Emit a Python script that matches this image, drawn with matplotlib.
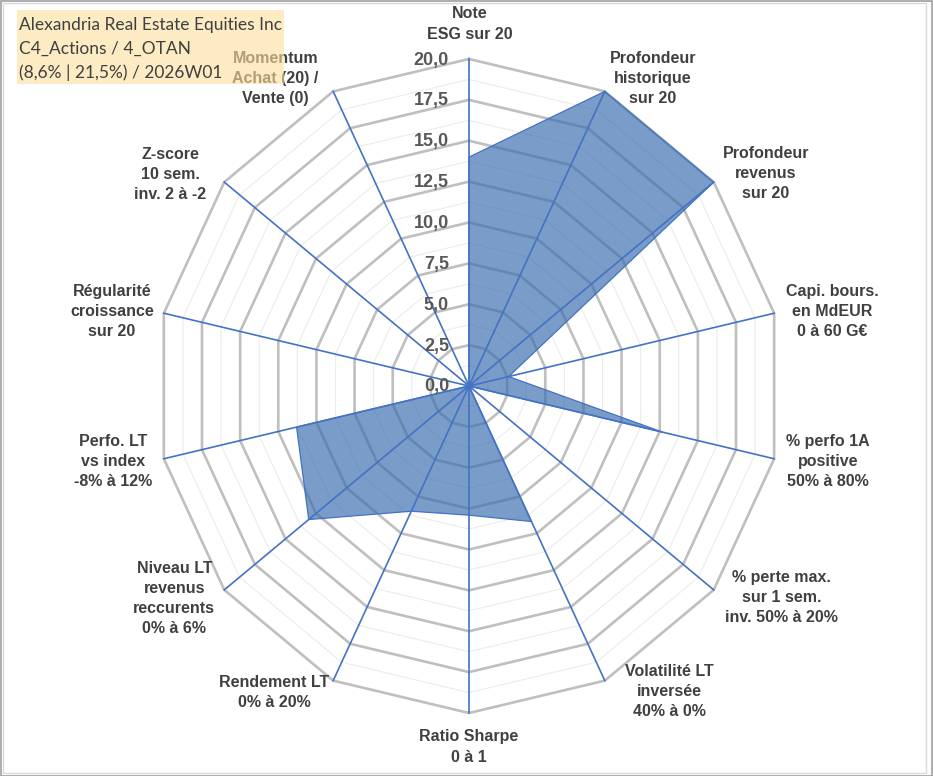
import numpy as np
import matplotlib
matplotlib.use("Agg")
import matplotlib.pyplot as plt
from matplotlib.patches import Rectangle, Polygon

# axis names, clockwise from the top
categories = [
    "Note\nESG sur 20",
    "Profondeur\nhistorique\nsur 20",
    "Profondeur\nrevenus\nsur 20",
    "Capi. bours.\nen MdEUR\n0 à 60 G€",
    "% perfo 1A\npositive\n50% à 80%",
    "% perte max.\nsur 1 sem.\ninv. 50% à 20%",
    "Volatilité LT\ninversée\n40% à 0%",
    "Ratio Sharpe\n0 à 1",
    "Rendement LT\n0% à 20%",
    "Niveau LT\nrevenus\nreccurents\n0% à 6%",
    "Perfo. LT\nvs index\n-8% à 12%",
    "Régularité\ncroissance\nsur 20",
    "Z-score\n10 sem.\ninv. 2 à -2",
    "Momentum\nAchat (20) /\nVente (0)",
]
values = [14.0, 20.0, 20.0, 2.6, 12.7, 0.0, 9.2, 7.9, 8.5, 13.1, 11.3, 0.0, 0.0, 0.0]
tick_values = [0.0, 2.5, 5.0, 7.5, 10.0, 12.5, 15.0, 17.5, 20.0]
tick_labels = ["0,0", "2,5", "5,0", "7,5", "10,0", "12,5", "15,0", "17,5", "20,0"]
title_lines = ["Alexandria Real Estate Equities Inc",
               "C4_Actions / 4_OTAN",
               "(8,6% | 21,5%) / 2026W01"]

# label offsets from the axis ends, in pixels (layout only)
label_offsets = [(1, 35), (48, 13), (52, 9), (58, 2), (54, -3), (68, -8), (65, -11),
                 (0, -34), (-59, -12), (-50, -9), (-51, -3), (-52, 2), (-54, 8), (-58, 13)]

W, H = 933, 776
cx, cy = 469, 386          # centre of the radar in pixels
rx, ry = 313 / 20, 327 / 20  # pixels per unit (picture is a bit squeezed)
rmax = 20.0

fig = plt.figure(figsize=(W / 100, H / 100), dpi=100)
ax = fig.add_axes([0, 0, 1, 1])
ax.set_xlim(-cx / rx, (W - cx) / rx)
ax.set_ylim(-(H - cy) / ry, cy / ry)
ax.axis("off")

n = len(categories)
theta = 2 * np.pi * np.arange(n) / n
sx, sy = np.sin(theta), np.cos(theta)

# grid polygons: minor every 1.25, major every 2.5
for r in np.arange(1.25, rmax + 0.01, 1.25):
    xs = np.append(r * sx, r * sx[0])
    ys = np.append(r * sy, r * sy[0])
    if abs(r / 2.5 - round(r / 2.5)) < 1e-6:
        ax.plot(xs, ys, color="#bfbfbf", lw=1.9, zorder=1, solid_joinstyle="miter")
    else:
        ax.plot(xs, ys, color="#ececec", lw=0.8, zorder=1)

# series
v = np.array(values)
poly = Polygon(np.column_stack([v * sx, v * sy]), closed=True,
               facecolor="#3a6eae", alpha=0.68, edgecolor="none", zorder=2)
ax.add_patch(poly)
ax.plot(np.append(v * sx, v[0] * sx[0]), np.append(v * sy, v[0] * sy[0]),
        color="#4472c4", lw=0.9, zorder=3)

# spokes
for k in range(n):
    ax.plot([0, rmax * sx[k]], [0, rmax * sy[k]], color="#4472c4", lw=1.2, zorder=4)

# radial tick labels
for tv, tl in zip(tick_values, tick_labels):
    ax.annotate(tl, xy=(0, tv), xytext=(-20, -1), textcoords="offset pixels",
                ha="right", va="center", fontsize=13, fontweight="bold",
                family="Liberation Sans", color="#595959", zorder=5)

# category labels
for k in range(n):
    ax.annotate(categories[k], xy=(rmax * sx[k], rmax * sy[k]),
                xytext=label_offsets[k], textcoords="offset pixels",
                ha="center", va="center", multialignment="center",
                fontsize=11.5, fontweight="bold", family="Liberation Sans",
                color="#404040", linespacing=1.42, zorder=5)

# title box, drawn over the chart
fig.patches.append(Rectangle((17 / W, 1 - 84 / H), 267 / W, 74 / H,
                             transform=fig.transFigure, facecolor="#fade9b",
                             alpha=0.6, edgecolor="none", zorder=10))
for i, line in enumerate(title_lines):
    fig.text(19 / W, 1 - (25 + 24 * i) / H, line, ha="left", va="center",
             fontsize=12.5, family="Lato", color="#404040", zorder=11)

# chart frame
fig.patches.append(Rectangle((3 / W, 3 / H), (W - 10) / W, (H - 6) / H,
                             transform=fig.transFigure, fill=False,
                             edgecolor="#d9d9d9", lw=1.0, zorder=12))
fig.patches.append(Rectangle((0.5 / W, 0.5 / H), (W - 1.5) / W, (H - 1.5) / H,
                             transform=fig.transFigure, fill=False,
                             edgecolor="#a0a0a0", lw=1.2, zorder=12))

fig.savefig("out.png", dpi=100)
